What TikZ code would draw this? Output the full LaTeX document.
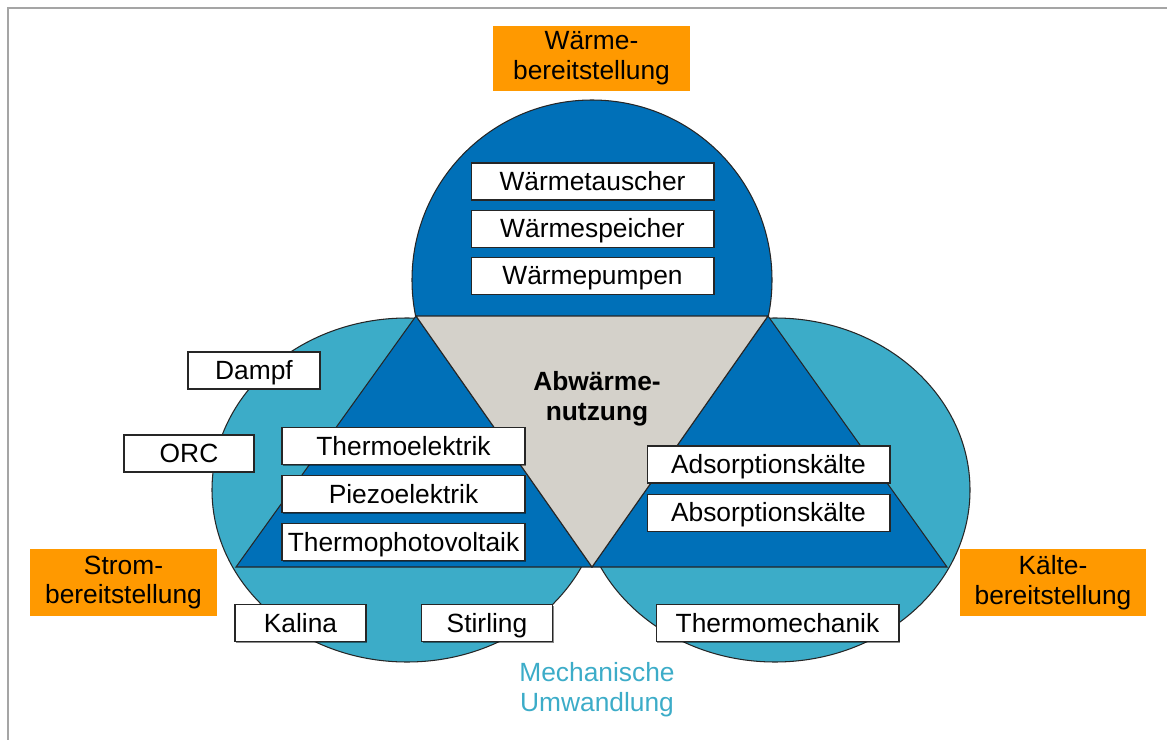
\documentclass[tikz,border=0pt]{standalone}
\usepackage{fontspec}
\setmainfont{Liberation Sans}
\usetikzlibrary{positioning,shadows}
\definecolor{darkblue}{RGB}{0,112,184}
\definecolor{lightblue}{RGB}{60,172,200}
\definecolor{warmgray}{RGB}{212,209,202}
\definecolor{goalorange}{RGB}{255,153,0}
\definecolor{framegray}{RGB}{165,165,165}
\begin{document}
\begin{tikzpicture}[x=0.02cm,y=-0.02cm,
    every node/.style={font=\fontsize{15}{17}\selectfont},
    techbox/.style={draw=black!85,fill=white,line width=0.6pt,inner sep=0pt,
        minimum height=0.74cm,text height=10.7pt,text depth=0pt,
        drop shadow={shadow xshift=0.8pt,shadow yshift=-0.8pt,fill=black,opacity=0.45}},
    goalbox/.style={fill=goalorange,align=center,inner sep=0pt,minimum width=3.74cm,minimum height=1.36cm},
    lower/.style={draw=black!85,fill=lightblue,line width=0.6pt},
    upper/.style={draw=black!85,fill=darkblue,line width=0.6pt},
    core/.style={draw=black!85,fill=warmgray,line width=0.6pt}]
    \useasboundingbox (0,0) rectangle (1167,740);
    \draw[framegray,line width=1.1pt] (8,740) -- (8,8) -- (1167,8);
    \draw[lower] (407,490) ellipse [x radius=195, y radius=172];
    \draw[lower] (775,490) ellipse [x radius=195, y radius=172];
    \begin{scope}
        \clip (0,0) rectangle (1167,316);
        \draw[upper] (592,280) circle [radius=180];
    \end{scope}
    \draw[upper] (416,316) -- (592,567) -- (236,567) -- cycle;
    \draw[upper] (768,316) -- (947,567) -- (592,567) -- cycle;
    \draw[core] (416,316) -- (768,316) -- (592,567) -- cycle;
    \node[font=\fontsize{15}{17}\selectfont\bfseries,align=center] (abw) at (597,399) {Abwärme-\\nutzung};
    \node[goalbox,minimum width=3.94cm,minimum height=1.3cm] (waerme) at (591.5,58.5) {Wärme-\\bereitstellung};
    \node[goalbox] (strom) at (123.5,582.5) {Strom-\\bereitstellung};
    \node[goalbox] (kaelte) at (1053,582.5) {Kälte-\\bereitstellung};
    \node[techbox,minimum width=4.86cm] (tauscher) at (592.5,181.5) {Wärmetauscher};
    \node[techbox,minimum width=4.86cm,below=0.18cm of tauscher] (speicher) {Wärmespeicher};
    \node[techbox,minimum width=4.86cm,below=0.18cm of speicher] (pumpen) {Wärmepumpen};
    \node[techbox,minimum width=2.64cm] (dampf) at (254,370.5) {Dampf};
    \node[techbox,minimum width=2.6cm] (orc) at (189,453.5) {ORC};
    \node[techbox,minimum width=4.86cm] (thermoel) at (403.5,446) {Thermoelektrik};
    \node[techbox,minimum width=4.86cm,below=0.2cm of thermoel] (piezo) {Piezoelektrik};
    \node[techbox,minimum width=4.86cm,below=0.2cm of piezo] (tpv) {Thermophotovoltaik};
    \node[techbox,minimum width=4.86cm] (adsorp) at (768.5,464.5) {Adsorptionskälte};
    \node[techbox,minimum width=4.86cm,below=0.2cm of adsorp] (absorp) {Absorptionskälte};
    \node[techbox,minimum width=2.62cm] (kalina) at (300.5,623) {Kalina};
    \node[techbox,minimum width=2.62cm] (stirling) at (487,623) {Stirling};
    \node[techbox,minimum width=4.86cm] (thermomech) at (777.5,623) {Thermomechanik};
    \node[text=lightblue,align=center] (mech) at (597,690) {Mechanische\\Umwandlung};
\end{tikzpicture}
\end{document}
